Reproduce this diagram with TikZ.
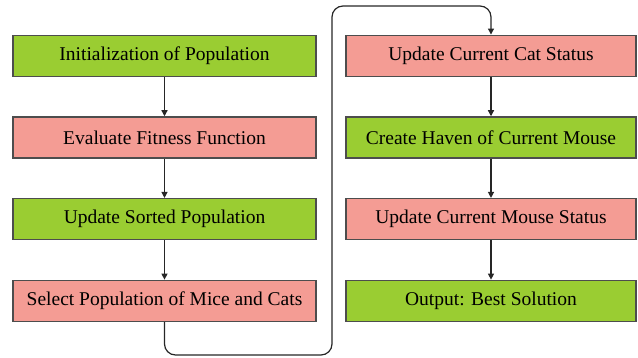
\documentclass[tikz,border=0pt]{standalone}
\usepackage{fontspec}
\setmainfont{Liberation Serif}
\usetikzlibrary{arrows.meta, positioning}
\definecolor{cgreen}{HTML}{9ACD32}
\definecolor{cpink}{HTML}{F49C94}
\definecolor{cedge}{HTML}{4D4D4D}
\tikzset{
  every picture/.style={line width=1.3pt},
  box/.style={draw=cedge, fill=#1, minimum width=303pt, minimum height=41pt, inner sep=0pt,
    font=\fontsize{19.5}{22}\selectfont},
  box/.default=cgreen,
  arrow/.style={-{Triangle[length=6pt, width=6pt]}, draw=black!85, line width=1.2pt},
}

\begin{document}
\begin{tikzpicture}[x=1pt, y=-1pt]
  \useasboundingbox (0,0) rectangle (638,358);
  % left column
  \foreach \t/\c [count=\i] in {Initialization of Population/cgreen, Evaluate Fitness Function/cpink,
      Update Sorted Population/cgreen, Select Population of Mice and Cats/cpink}
    \node[box=\c] (l\i) at (164.5,-26+\i*81.7) {\t};
  % right column
  \foreach \t/\c [count=\i] in {Update Current Cat Status/cpink, Create Haven of Current Mouse/cgreen,
      Update Current Mouse Status/cpink, Output: Best Solution/cgreen}
    \node[box=\c, minimum width=290pt] (r\i) at (491,-26+\i*81.7) {\t};
  \foreach \i [evaluate=\i as \j using int(\i+1)] in {1,2,3} {
    \draw[arrow] (l\i) -- (l\j);
    \draw[arrow] (r\i) -- (r\j);
  }
  \coordinate (low) at (332,355);
  \coordinate (high) at (332,6);
  \draw[arrow, rounded corners=11pt] (l4.south) |- (low) -- (high) -| (r1.north);
\end{tikzpicture}
\end{document}
